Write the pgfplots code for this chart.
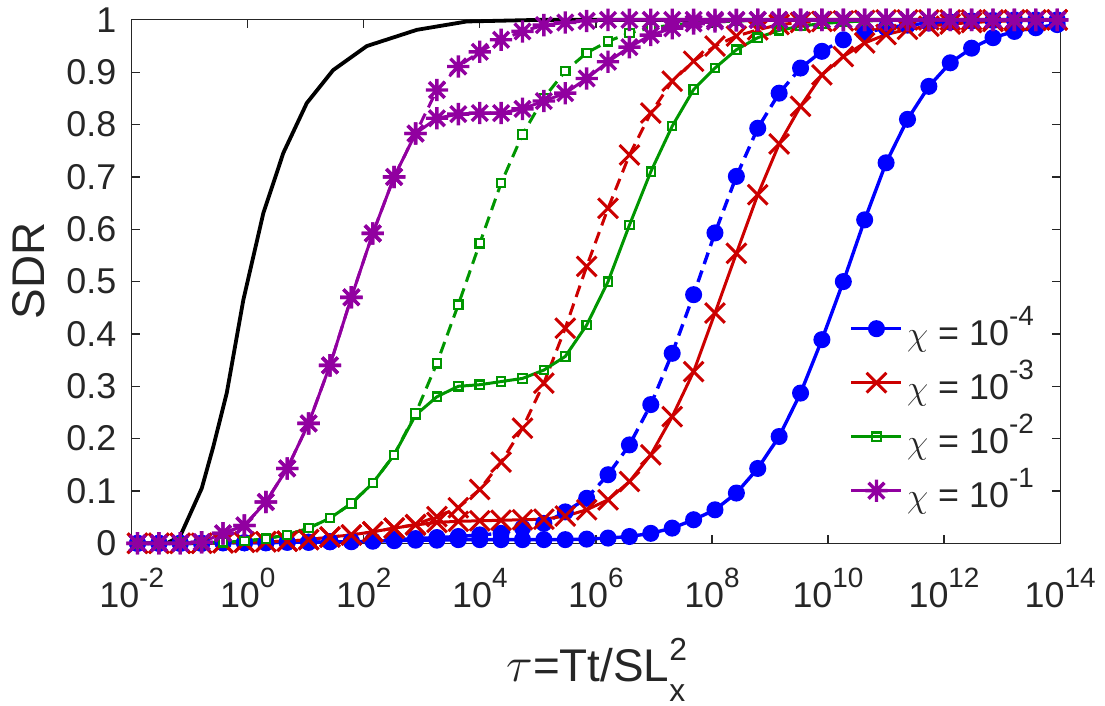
\documentclass[border=0pt]{standalone}
\usepackage{pgfplots}
\pgfplotsset{compat=1.18}
\usepackage{pgfplotstable}
\usepackage{fontspec}
\setmainfont{Liberation Sans}
\usetikzlibrary{plotmarks}

\definecolor{mblue}{RGB}{0,0,255}
\definecolor{mred}{RGB}{204,0,0}
\definecolor{mgreen}{RGB}{0,150,0}
\definecolor{mpurple}{RGB}{145,0,160}
\definecolor{axgray}{RGB}{38,38,38}

\pgfdeclareplotmark{mstar}{%
  \pgfpathmoveto{\pgfqpoint{-\pgfplotmarksize}{0pt}}%
  \pgfpathlineto{\pgfqpoint{\pgfplotmarksize}{0pt}}%
  \pgfpathmoveto{\pgfqpoint{0pt}{-\pgfplotmarksize}}%
  \pgfpathlineto{\pgfqpoint{0pt}{\pgfplotmarksize}}%
  \pgfpathmoveto{\pgfqpoint{-.7071\pgfplotmarksize}{-.7071\pgfplotmarksize}}%
  \pgfpathlineto{\pgfqpoint{.7071\pgfplotmarksize}{.7071\pgfplotmarksize}}%
  \pgfpathmoveto{\pgfqpoint{-.7071\pgfplotmarksize}{.7071\pgfplotmarksize}}%
  \pgfpathlineto{\pgfqpoint{.7071\pgfplotmarksize}{-.7071\pgfplotmarksize}}%
  \pgfusepathqstroke
}

% x = log10(tau)
\pgfplotstableread{
x      bS    bD    rS    rD    gS    gD    pS    pD
-1.900 0     0     0     0     0     0     0     0
-1.531 0     0     0     0     0     0     0     0
-1.163 0     0     0     0     0.001 0.001 0     0
-0.794 0     0     0     0     0.001 0.001 0.002 0.002
-0.426 0.001 0.001 0.001 0.001 0.002 0.002 0.019 0.019
-0.057 0.001 0.001 0.002 0.002 0.004 0.004 0.034 0.034
0.312  0.001 0.001 0.003 0.003 0.009 0.009 0.079 0.079
0.680  0.002 0.002 0.004 0.004 0.016 0.016 0.143 0.143
1.049  0.002 0.002 0.007 0.007 0.029 0.029 0.229 0.229
1.417  0.003 0.003 0.012 0.012 0.048 0.048 0.340 0.340
1.786  0.003 0.004 0.016 0.016 0.076 0.076 0.470 0.470
2.155  0.004 0.005 0.022 0.022 0.115 0.115 0.592 0.592
2.523  0.005 0.007 0.029 0.029 0.169 0.169 0.700 0.700
2.892  0.006 0.009 0.035 0.036 0.245 0.248 0.783 0.783
3.260  0.006 0.011 0.040 0.051 0.280 0.344 0.812 0.866
3.629  0.007 0.013 0.042 0.068 0.300 0.456 0.820 0.911
3.998  0.007 0.016 0.043 0.103 0.303 0.573 0.822 0.939
4.366  0.007 0.019 0.044 0.155 0.309 0.688 0.822 0.962
4.735  0.007 0.029 0.045 0.220 0.315 0.781 0.830 0.978
5.103  0.007 0.038 0.046 0.306 0.331 0.851 0.845 0.990
5.472  0.007 0.060 0.052 0.411 0.357 0.902 0.860 0.995
5.841  0.008 0.086 0.064 0.529 0.417 0.937 0.888 0.998
6.209  0.010 0.131 0.083 0.640 0.500 0.959 0.920 1
6.578  0.013 0.188 0.118 0.742 0.608 0.975 0.948 1
6.946  0.019 0.265 0.169 0.822 0.710 0.985 0.971 1
7.315  0.029 0.363 0.242 0.883 0.797 0.990 0.984 1
7.684  0.045 0.475 0.328 0.921 0.867 0.994 0.993 1
8.052  0.064 0.593 0.440 0.950 0.908 0.996 0.997 1
8.421  0.096 0.701 0.554 0.969 0.943 0.998 0.999 1
8.789  0.143 0.793 0.666 0.981 0.966 0.999 1     1
9.158  0.204 0.860 0.763 0.991 0.980 1     1     1
9.527  0.287 0.908 0.835 0.995 0.988 1     1     1
9.895  0.389 0.940 0.895 0.997 0.993 1     1     1
10.264 0.500 0.962 0.930 0.998 0.996 1     1     1
10.632 0.618 0.975 0.956 0.999 0.998 1     1     1
11.001 0.727 0.985 0.972 1     0.999 1     1     1
11.370 0.810 0.990 0.982 1     1     1     1     1
11.738 0.873 0.994 0.988 1     1     1     1     1
12.107 0.918 0.996 0.992 1     1     1     1     1
12.475 0.946 0.998 0.995 1     1     1     1     1
12.844 0.966 0.999 0.997 1     1     1     1     1
13.213 0.978 1     0.998 1     1     1     1     1
13.581 0.985 1     0.999 1     1     1     1     1
13.950 0.991 1     1     1     1     1     1     1
}\sdrtable

\pgfplotstableread{
x      y
-2.000 0
-1.397 0
-1.167 0.013
-0.793 0.105
-0.593 0.185
-0.362 0.287
-0.076 0.465
0.269  0.631
0.614  0.746
1.017  0.841
1.471  0.904
2.052  0.950
2.914  0.981
3.776  0.997
5.000  1
14.000 1
}\blacktable

\newcommand{\tl}[1]{10\raisebox{10bp}{\fontsize{14}{14}\selectfont #1}}

\begin{document}
\begin{tikzpicture}
\begin{axis}[
  scale only axis, width=464.2bp, height=261.7bp,
  xmin=-2, xmax=14, ymin=0, ymax=1,
  clip=false,
  xtick={-2,0,2,4,6,8,10,12,14},
  xticklabels={\tl{-2},\tl{0},\tl{2},\tl{4},\tl{6},\tl{8},\tl{10},\tl{12},\tl{14}},
  ytick={0,0.1,0.2,0.3,0.4,0.5,0.6,0.7,0.8,0.9,1},
  yticklabels={0,0.1,0.2,0.3,0.4,0.5,0.6,0.7,0.8,0.9,1},
  minor tick num=0,
  tick align=inside, major tick length=4bp,
  axis line style={draw=axgray, line width=0.6bp},
  every tick/.style={draw=axgray, line width=0.6bp},
  tick label style={font=\fontsize{18}{20}\selectfont, text=axgray},
  xticklabel style={anchor=north, inner sep=0pt, yshift=-12.3bp},
  yticklabel style={anchor=east, inner sep=0pt, xshift=-7.5bp},
  xlabel={$\tau$=Tt/SL\rlap{\raisebox{10.8bp}{\fontsize{16}{16}\selectfont 2}}\raisebox{-10bp}{\fontsize{16}{16}\selectfont x}},
  every axis x label/.style={at={(axis description cs:0.5,-0.2644)}, anchor=base, font=\fontsize{23}{26}\selectfont, text=axgray},
  ylabel={SDR},
  every axis y label/.style={at={(axis description cs:-0.1104,0.5203)}, rotate=90, anchor=center, font=\fontsize{23}{26}\selectfont, text=axgray},
  legend style={draw=none, fill=none, at={(axis description cs:0.7730,0.4324)}, anchor=north west,
    inner sep=0pt, row sep=9bp, column sep=2bp, font=\fontsize{18}{20}\selectfont,
    nodes={inner sep=0pt, text height=14bp, text depth=4bp, text=axgray}},
  legend cell align=left,
  legend image code/.code={\draw[#1, mark repeat=2, mark phase=2, yshift=3.35bp] plot coordinates {(0bp,0bp) (12.5bp,0bp) (25bp,0bp)};},
]
% reference curve
\addplot[black, line width=1.9bp, forget plot] table[x=x, y=y] {\blacktable};

% chi = 1e-4
\addplot[mblue, line width=1.7bp, mark=*, mark size=3.4bp, mark options={solid, fill=mblue}] table[x=x, y=bS] {\sdrtable};
\addlegendentry{$\chi$ = \tl{-4}}
\addplot[mblue, line width=1.7bp, dash pattern=on 6bp off 3.5bp, mark=*, mark size=3.4bp, mark options={solid, fill=mblue}, forget plot] table[x=x, y=bD] {\sdrtable};

% chi = 1e-3
\addplot[mred, line width=1.5bp, mark=x, mark size=7pt, mark options={solid}] table[x=x, y=rS] {\sdrtable};
\addlegendentry{$\chi$ = \tl{-3}}
\addplot[mred, line width=1.5bp, dash pattern=on 6bp off 3.5bp, mark=x, mark size=7pt, mark options={solid}, forget plot] table[x=x, y=rD] {\sdrtable};

% chi = 1e-2
\addplot[mgreen, line width=1.5bp, mark=square, mark size=2.1pt, mark options={solid, line width=1.1bp}] table[x=x, y=gS] {\sdrtable};
\addlegendentry{$\chi$ = \tl{-2}}
\addplot[mgreen, line width=1.5bp, dash pattern=on 6bp off 3.5bp, mark=square*, mark size=2.1pt, mark options={solid, line width=1.1bp, fill=white}, forget plot] table[x=x, y=gD] {\sdrtable};

% chi = 1e-1
\addplot[mpurple, line width=1.5bp, mark=mstar, mark size=5.6pt, mark options={solid, line width=1.7bp}] table[x=x, y=pS] {\sdrtable};
\addlegendentry{$\chi$ = \tl{-1}}
\addplot[mpurple, line width=1.5bp, dash pattern=on 6bp off 3.5bp, mark=mstar, mark size=5.6pt, mark options={solid, line width=1.7bp}, forget plot] table[x=x, y=pD] {\sdrtable};
\end{axis}
\pgfresetboundingbox
\path (-65.85bp,-81.35bp) rectangle (486.65bp,271.65bp);
\end{tikzpicture}
\end{document}
